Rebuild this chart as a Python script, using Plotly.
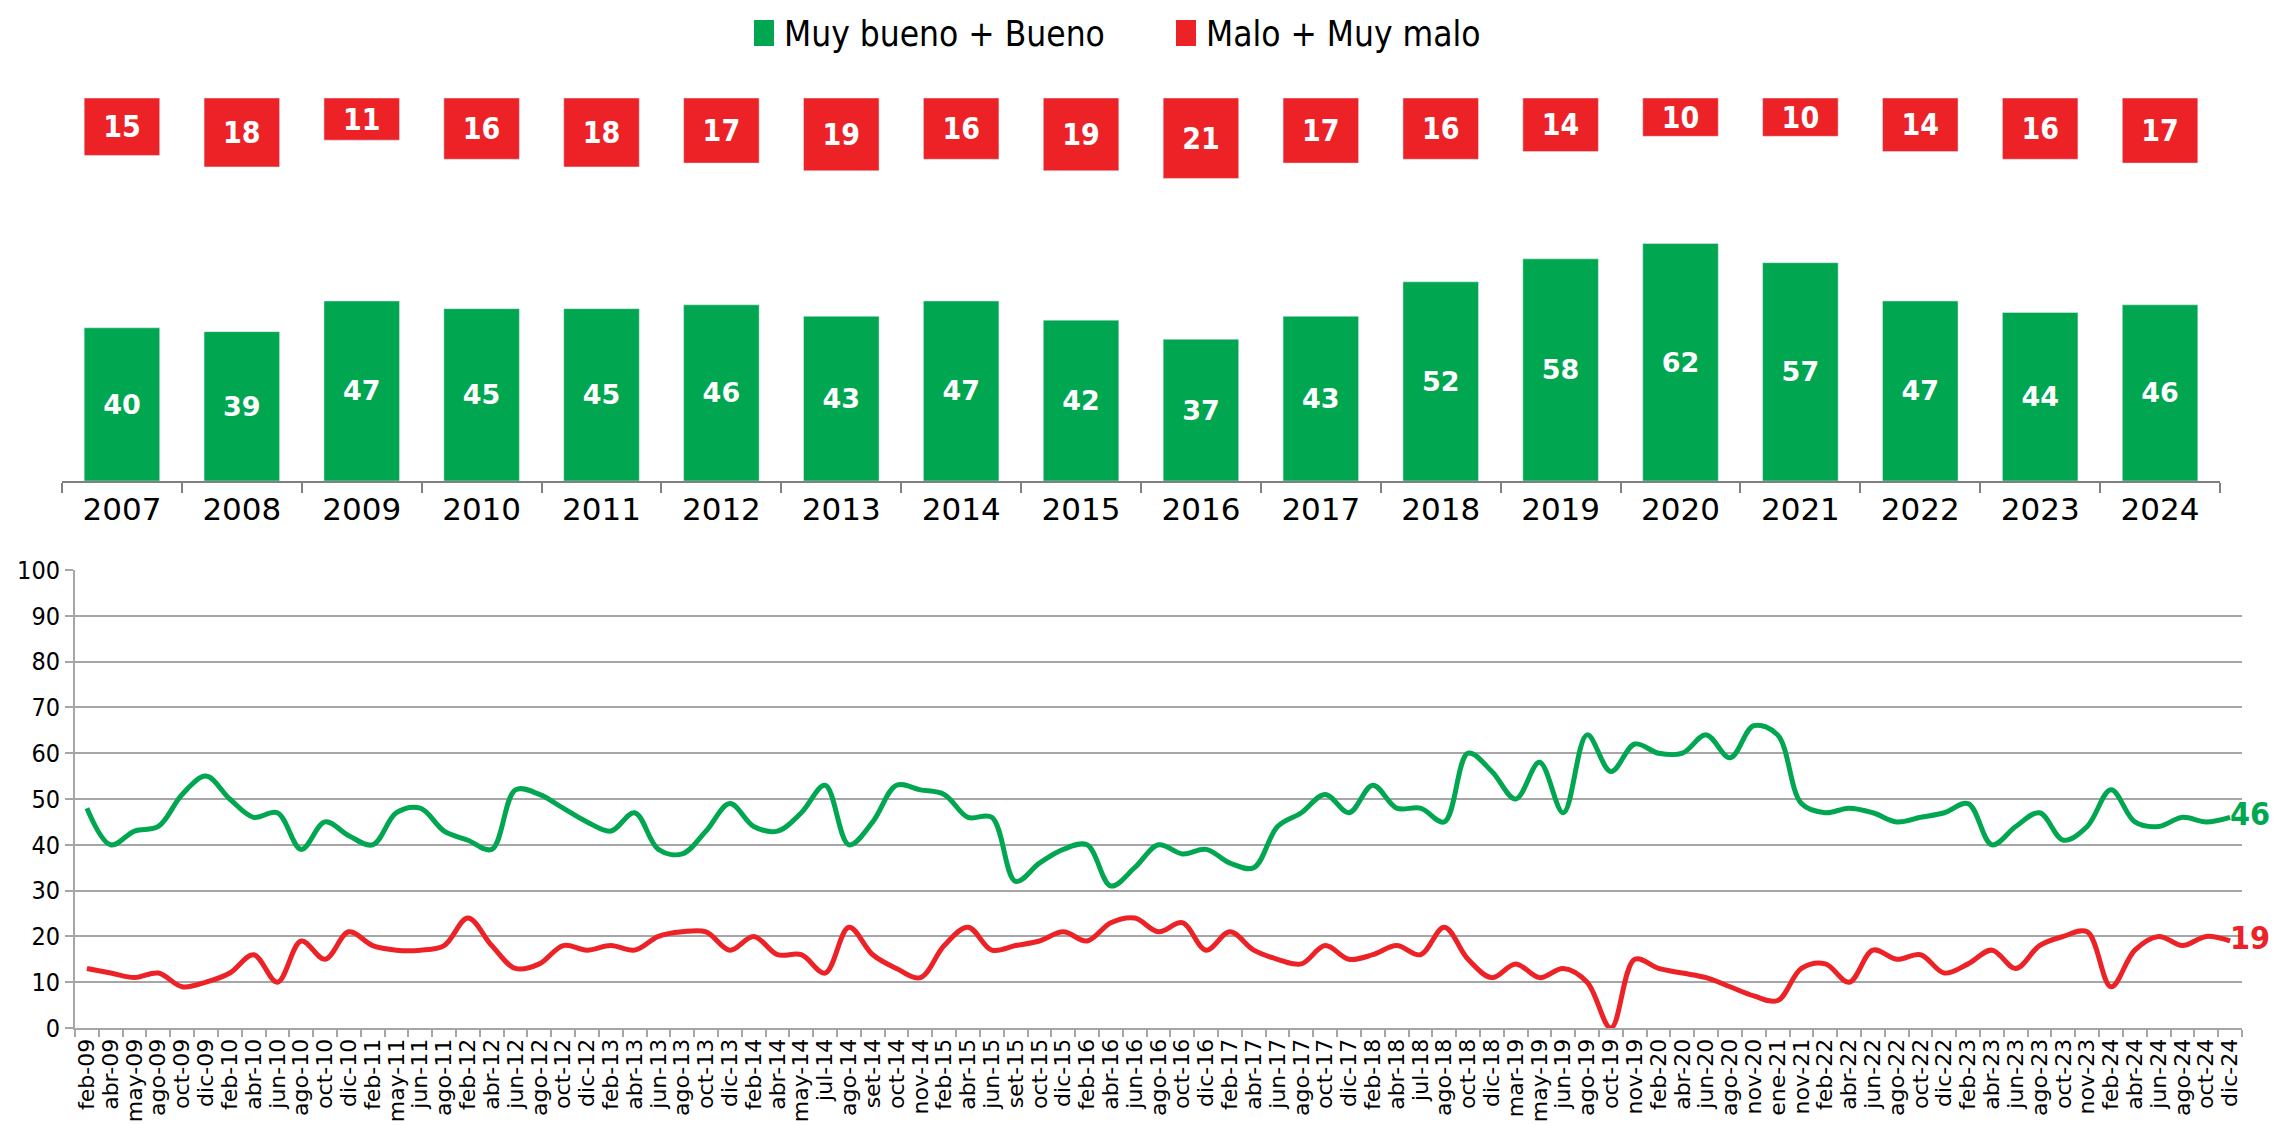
import plotly.graph_objects as go

# --- datos anuales (barras) ---
anios = ["2007", "2008", "2009", "2010", "2011", "2012", "2013", "2014", "2015",
         "2016", "2017", "2018", "2019", "2020", "2021", "2022", "2023", "2024"]
bueno_anual = [40, 39, 47, 45, 45, 46, 43, 47, 42, 37, 43, 52, 58, 62, 57, 47, 44, 46]
malo_anual = [15, 18, 11, 16, 18, 17, 19, 16, 19, 21, 17, 16, 14, 10, 10, 14, 16, 17]

# --- serie mensual (lineas) ---
meses = [
    "feb-09", "abr-09", "may-09", "ago-09", "oct-09", "dic-09",
    "feb-10", "abr-10", "jun-10", "ago-10", "oct-10", "dic-10",
    "feb-11", "may-11", "jun-11", "ago-11",
    "feb-12", "abr-12", "jun-12", "ago-12", "oct-12", "dic-12",
    "feb-13", "abr-13", "jun-13", "ago-13", "oct-13", "dic-13",
    "feb-14", "abr-14", "may-14", "jul-14", "ago-14", "set-14", "oct-14", "nov-14",
    "feb-15", "abr-15", "jun-15", "set-15", "oct-15", "dic-15",
    "feb-16", "abr-16", "jun-16", "ago-16", "oct-16", "dic-16",
    "feb-17", "abr-17", "jun-17", "ago-17", "oct-17", "dic-17",
    "feb-18", "abr-18", "jul-18", "ago-18", "oct-18", "dic-18",
    "mar-19", "may-19", "jun-19", "ago-19", "oct-19", "nov-19",
    "feb-20", "abr-20", "jun-20", "ago-20", "nov-20",
    "ene-21", "nov-21",
    "feb-22", "abr-22", "jun-22", "ago-22", "oct-22", "dic-22",
    "feb-23", "abr-23", "jun-23", "ago-23", "oct-23", "nov-23",
    "feb-24", "abr-24", "jun-24", "ago-24", "oct-24", "dic-24",
]
bueno_mes = [
    48, 40, 43, 44, 51, 55,
    50, 46, 47, 39, 45, 42,
    40, 47, 48, 43,
    41, 39, 52, 51, 48, 45,
    43, 47, 39, 38, 43, 49,
    44, 43, 47, 53, 40, 45, 53, 52,
    51, 46, 46, 32, 36, 39,
    40, 31, 35, 40, 38, 39,
    36, 35, 44, 47, 51, 47,
    53, 48, 48, 45, 60, 56,
    50, 58, 47, 64, 56, 62,
    60, 60, 64, 59, 66,
    64, 49,
    47, 48, 47, 45, 46, 47,
    49, 40, 44, 47, 41, 44,
    52, 45, 44, 46, 45, 46,
]
malo_mes = [
    13, 12, 11, 12, 9, 10,
    12, 16, 10, 19, 15, 21,
    18, 17, 17, 18,
    24, 18, 13, 14, 18, 17,
    18, 17, 20, 21, 21, 17,
    20, 16, 16, 12, 22, 16, 13, 11,
    18, 22, 17, 18, 19, 21,
    19, 23, 24, 21, 23, 17,
    21, 17, 15, 14, 18, 15,
    16, 18, 16, 22, 15, 11,
    14, 11, 13, 10, 0, 15,
    13, 12, 11, 9, 7,
    6, 13,
    14, 10, 17, 15, 16, 12,
    14, 17, 13, 18, 20, 21,
    9, 17, 20, 18, 20, 19,
]
leyenda = ["Muy bueno + Bueno", "Malo + Muy malo"]

VERDE = "#00A650"
ROJO = "#EC2227"
GRIS = "#A6A6A6"
NARROW = "Liberation Sans Narrow, DejaVu Sans Condensed, sans-serif"
W, H = 2285, 1125

fig = go.Figure()

# barras verdes desde 0
fig.add_trace(go.Bar(x=anios, y=bueno_anual, marker_color=VERDE, width=0.63,
                     text=bueno_anual, textposition="inside", insidetextanchor="middle",
                     constraintext="none",
                     textfont=dict(color="white", size=27, family="DejaVu Sans", weight="bold"),
                     showlegend=False, hoverinfo="skip"))
# cajas rojas colgando desde 100
fig.add_trace(go.Bar(x=anios, y=malo_anual, base=[100 - v for v in malo_anual],
                     marker_color=ROJO, width=0.63,
                     text=malo_anual, textposition="inside", insidetextanchor="middle",
                     constraintext="none",
                     textfont=dict(color="white", size=30, family=NARROW, weight="bold"),
                     showlegend=False, hoverinfo="skip"))

# lineas mensuales
ult = len(meses) - 1
fig.add_trace(go.Scatter(x=meses, y=bueno_mes, xaxis="x2", yaxis="y2", mode="lines+text",
                         line=dict(color=VERDE, width=5, shape="spline", smoothing=1.0),
                         text=[""] * ult + [str(bueno_mes[-1])], textposition="middle right",
                         textfont=dict(color=VERDE, size=32, family=NARROW, weight="bold"),
                         cliponaxis=False, showlegend=False))
fig.add_trace(go.Scatter(x=meses, y=malo_mes, xaxis="x2", yaxis="y2", mode="lines+text",
                         line=dict(color=ROJO, width=5, shape="spline", smoothing=1.0),
                         text=[""] * ult + [str(malo_mes[-1])], textposition="middle right",
                         textfont=dict(color=ROJO, size=32, family=NARROW, weight="bold"),
                         cliponaxis=False, showlegend=False))

# leyenda dibujada a mano (la leyenda nativa empuja el margen superior)
for nombre, color, xs, xt in [(leyenda[0], VERDE, 746, 774), (leyenda[1], ROJO, 1168, 1196)]:
    fig.add_shape(type="rect", xref="paper", yref="paper",
                  x0=xs / W, x1=(xs + 20) / W, y0=1 - 38 / H, y1=1 - 12 / H,
                  fillcolor=color, line_width=0)
    fig.add_annotation(text=nombre, xref="paper", yref="paper", x=xt / W, y=1 - 26 / H,
                       xanchor="left", yanchor="middle", showarrow=False,
                       font=dict(family="DejaVu Sans Condensed", size=35, color="black"))

fig.update_layout(
    width=W, height=H,
    margin=dict(l=0, r=0, t=0, b=0),
    paper_bgcolor="white", plot_bgcolor="white",
    barmode="overlay", showlegend=False,
    xaxis=dict(domain=[54 / W, 2212 / W], anchor="y", type="category",
               tickson="boundaries", ticks="outside", ticklen=10, tickcolor="#808080",
               tickwidth=2, showline=True, linecolor="#808080", linewidth=2,
               showgrid=False, tickfont=dict(family="DejaVu Sans", size=31, color="black"),
               automargin=False),
    yaxis=dict(domain=[1 - 473 / H, 1 - 90 / H], anchor="x", range=[0, 100], visible=False),
    xaxis2=dict(domain=[67 / W, 2234 / W], anchor="y2", type="category",
                range=[-0.5, len(meses) - 0.5],
                tickmode="array", tickvals=meses, ticktext=meses, tickangle=-90,
                tickson="boundaries", ticks="outside", ticklen=7, tickcolor=GRIS,
                tickwidth=2, showline=True, linecolor=GRIS, linewidth=2, showgrid=False,
                tickfont=dict(family="DejaVu Sans", size=22, color="black"),
                automargin=False),
    yaxis2=dict(domain=[1 - 1020 / H, 1 - 562 / H], anchor="x2", range=[0, 100],
                tick0=0, dtick=10, showgrid=True, gridcolor=GRIS, gridwidth=2,
                zeroline=False, showline=True, linecolor=GRIS, linewidth=2,
                ticks="outside", ticklen=8, tickcolor=GRIS, tickwidth=2,
                tickfont=dict(family="DejaVu Sans Condensed", size=25, color="black"),
                automargin=False),
)

fig.write_html("out.html")
